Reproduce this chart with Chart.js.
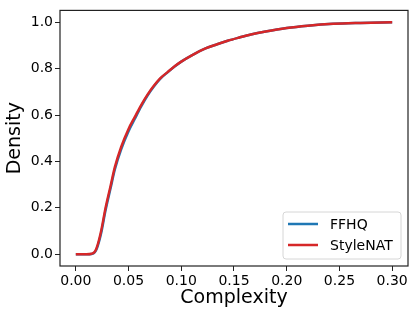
<!DOCTYPE html>
<html lang="en">
<head>
  <meta charset="UTF-8" />
  <title>Complexity CDF</title>
  <script src="https://cdn.jsdelivr.net/npm/chart.js"></script>
  <style>
    html, body { margin: 0; padding: 0; background: #fff; }
    #wrap { width: 416px; height: 317px; }
  </style>
</head>
<body>
  <div id="wrap">
    <canvas id="cdfChart" width="416" height="317"></canvas>
  </div>

  <script>
    // complexity values (x)
    const complexity = [0, 0.005, 0.010, 0.015, 0.018, 0.020, 0.024, 0.028, 0.033, 0.037, 0.043,
      0.050, 0.056, 0.062, 0.068, 0.074, 0.080, 0.087, 0.094, 0.100, 0.110, 0.123, 0.134,
      0.144, 0.155, 0.166, 0.180, 0.200, 0.220, 0.244, 0.270, 0.300];

    // cumulative density, FFHQ (blue, a hair to the right in the steep part)
    const ffhqDensity = [0, 0, 0, 0.001, 0.008, 0.025, 0.09, 0.185, 0.285, 0.365, 0.452,
      0.530, 0.584, 0.637, 0.684, 0.723, 0.756, 0.784, 0.810, 0.830, 0.857, 0.887, 0.905,
      0.920, 0.934, 0.947, 0.960, 0.975, 0.985, 0.993, 0.997, 1.0];

    // cumulative density, StyleNAT (red, drawn on top)
    const stylenatDensity = [0, 0, 0, 0.002, 0.01, 0.03, 0.10, 0.195, 0.295, 0.375, 0.462,
      0.540, 0.592, 0.643, 0.688, 0.726, 0.758, 0.785, 0.811, 0.830, 0.857, 0.887, 0.905,
      0.920, 0.934, 0.947, 0.960, 0.975, 0.985, 0.993, 0.997, 1.0];

    const xTicks = [0, 0.05, 0.10, 0.15, 0.20, 0.25, 0.30];
    const yTicks = [0, 0.2, 0.4, 0.6, 0.8, 1.0];

    const toPoints = (ys) => complexity.map((x, i) => ({ x: x, y: ys[i] }));

    Chart.defaults.font.family = "'DejaVu Sans', sans-serif";
    Chart.defaults.color = '#000';

    // matplotlib-ish frame + legend box in the lower right corner
    const frameAndLegend = {
      id: 'frameAndLegend',
      afterDraw(chart) {
        const { ctx, chartArea: a } = chart;
        ctx.save();
        ctx.strokeStyle = '#222';
        ctx.lineWidth = 1.2;
        ctx.strokeRect(a.left, a.top, a.right - a.left, a.bottom - a.top);

        const w = 118, h = 47;
        const bx = a.right - 7 - w, by = a.bottom - 7 - h;
        ctx.beginPath();
        ctx.roundRect(bx, by, w, h, 3);
        ctx.fillStyle = 'rgba(255,255,255,0.8)';
        ctx.fill();
        ctx.strokeStyle = '#d6d6d6';
        ctx.lineWidth = 1;
        ctx.stroke();

        ctx.font = "14px 'DejaVu Sans'";
        ctx.textBaseline = 'middle';
        chart.data.datasets.forEach((ds, i) => {
          const y = by + 12 + i * 21;
          ctx.strokeStyle = ds.borderColor;
          ctx.lineWidth = 2.5;
          ctx.beginPath();
          ctx.moveTo(bx + 5, y);
          ctx.lineTo(bx + 35, y);
          ctx.stroke();
          ctx.fillStyle = '#000';
          ctx.fillText(ds.label, bx + 47, y + 1);
        });
        ctx.restore();
      }
    };

    new Chart(document.getElementById('cdfChart'), {
      type: 'scatter',
      data: {
        datasets: [
          {
            label: 'FFHQ',
            data: toPoints(ffhqDensity),
            showLine: true,
            borderColor: '#1f77b4',
            borderWidth: 2.5,
            pointRadius: 0,
            cubicInterpolationMode: 'monotone',
            order: 1
          },
          {
            label: 'StyleNAT',
            data: toPoints(stylenatDensity),
            showLine: true,
            borderColor: '#d62728',
            borderWidth: 2.5,
            pointRadius: 0,
            cubicInterpolationMode: 'monotone',
            order: 0
          }
        ]
      },
      options: {
        responsive: false,
        animation: false,
        layout: { padding: { top: 7, right: 8, left: 0, bottom: 0 } },
        plugins: {
          legend: { display: false },
          tooltip: { enabled: false }
        },
        scales: {
          x: {
            type: 'linear',
            min: -0.015,
            max: 0.315,
            afterBuildTicks: (s) => { s.ticks = xTicks.map(v => ({ value: v })); },
            afterFit: (s) => { s.height = 51; },
            ticks: {
              font: { size: 14 },
              padding: 2,
              maxRotation: 0,
              callback: (v) => v.toFixed(2)
            },
            grid: { drawOnChartArea: false, tickLength: 5, color: '#222' },
            border: { display: false },
            title: { display: true, text: 'Complexity', font: { size: 19 }, padding: { top: 0, bottom: 8 } }
          },
          y: {
            min: -0.051,
            max: 1.051,
            afterBuildTicks: (s) => { s.ticks = yTicks.map(v => ({ value: v })); },
            afterFit: (s) => { s.width = 60; },
            ticks: {
              font: { size: 14 },
              padding: 2,
              callback: (v) => v.toFixed(1)
            },
            grid: { drawOnChartArea: false, tickLength: 5, color: '#222' },
            border: { display: false },
            title: { display: true, text: 'Density', font: { size: 19 }, padding: { top: 4, bottom: 0 } }
          }
        }
      },
      plugins: [frameAndLegend]
    });
  </script>
</body>
</html>
